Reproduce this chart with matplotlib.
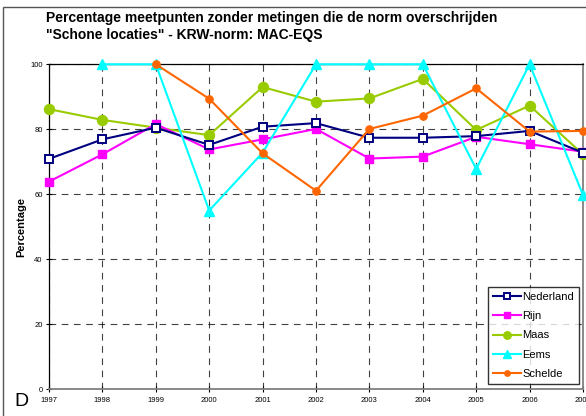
import matplotlib
matplotlib.use("Agg")
import matplotlib.pyplot as plt
from matplotlib.patches import Rectangle

plt.rcParams['font.family'] = ['Liberation Sans', 'DejaVu Sans']

years = [1997, 1998, 1999, 2000, 2001, 2002, 2003, 2004, 2005, 2006, 2007]
nederland = [70.9, 76.9, 80.5, 75.2, 80.8, 81.9, 77.4, 77.4, 77.9, 79.5, 72.8]
rijn = [63.9, 72.3, 81.6, 73.8, 76.9, 80.1, 71.0, 71.6, 77.7, 75.4, 73.1]
maas = [86.2, 82.9, 80.5, 78.2, 93.0, 88.5, 89.5, 95.5, 79.8, 87.3, 72.3]
eems_years = [1998, 1999, 2000, 2001, 2002, 2003, 2004, 2005, 2006, 2007]
eems = [100, 100, 55.0, 72.8, 100, 100, 100, 67.8, 100, 59.8]
schelde_years = [1999, 2000, 2001, 2002, 2003, 2004, 2005, 2006, 2007]
schelde = [100, 89.4, 72.6, 61.1, 80.1, 84.2, 92.6, 79.3, 79.5]

title_lines = ["Percentage meetpunten zonder metingen die de norm overschrijden",
               "\"Schone locaties\" - KRW-norm: MAC-EQS"]

W, H = 586, 416
fig = plt.figure(figsize=(W / 100, H / 100), dpi=100)
fig.patch.set_facecolor('white')

# outer frame
fig.patches.append(Rectangle((2.5 / W, 0 - 0.1), (W + 20) / W, (H - 6.5) / H + 0.1,
                             transform=fig.transFigure, fill=False,
                             edgecolor='#555555', linewidth=1.0))

left, right, top, bottom = 49, 583, 64.3, 389.3
ax = fig.add_axes([left / W, (H - bottom) / H, (right - left) / W, (bottom - top) / H])

ax.plot(years, nederland, color='#000080', lw=1.5, marker='s', ms=5.2,
        mfc='white', mec='#000080', mew=1.4, label='Nederland', clip_on=False, zorder=5)
ax.plot(years, rijn, color='#FF00FF', lw=1.5, marker='s', ms=5.5,
        mfc='#FF00FF', mec='#FF00FF', label='Rijn', clip_on=False, zorder=4)
ax.plot(years, maas, color='#99CC00', lw=1.5, marker='o', ms=7.2,
        mfc='#99CC00', mec='#99CC00', label='Maas', clip_on=False, zorder=3)
ax.plot(eems_years, eems, color='#00FFFF', lw=1.5, marker='^', ms=7,
        mfc='#00FFFF', mec='#00FFFF', label='Eems', clip_on=False, zorder=6)
ax.plot(schelde_years, schelde, color='#FF6600', lw=1.5, marker='o', ms=5.2,
        mfc='#FF6600', mec='#FF6600', label='Schelde', clip_on=False, zorder=7)

ax.set_xlim(1997, 2007)
ax.set_ylim(0, 100)
ax.set_xticks(years)
ax.set_yticks([0, 20, 40, 60, 80, 100])
ax.tick_params(axis='both', direction='inout', length=5, width=0.8, labelsize=5.5, pad=2)
ax.tick_params(axis='x', pad=3)
ax.grid(True, color='black', linestyle=(0, (6, 5)), linewidth=0.8, alpha=0.75)
ax.set_axisbelow(True)
for s in ['left', 'top']:
    ax.spines[s].set_color('black')
    ax.spines[s].set_linewidth(0.9)
for s in ['right', 'bottom']:
    ax.spines[s].set_color('#808080')
    ax.spines[s].set_linewidth(1.3)

ax.set_ylabel('Percentage', fontsize=8, fontweight='bold', labelpad=3)

leg = ax.legend(loc='lower right', bbox_to_anchor=((579.3 - left) / (right - left), (bottom - 384.3) / (bottom - top)),
                fontsize=8, frameon=True, fancybox=False, edgecolor='black',
                borderpad=0.45, labelspacing=0.85, handlelength=2.6, handletextpad=0.1,
                borderaxespad=0, markerscale=0.75)
leg.get_frame().set_linewidth(1.0)

fig.text(46 / W, 1 - 18 / H, title_lines[0], fontsize=10, fontweight='bold', va='center', ha='left')
fig.text(46 / W, 1 - 35 / H, title_lines[1], fontsize=10, fontweight='bold', va='center', ha='left')
fig.text(14 / W, 1 - 401 / H, 'D', fontsize=14, va='center', ha='left')

fig.savefig('out.png', dpi=100)
